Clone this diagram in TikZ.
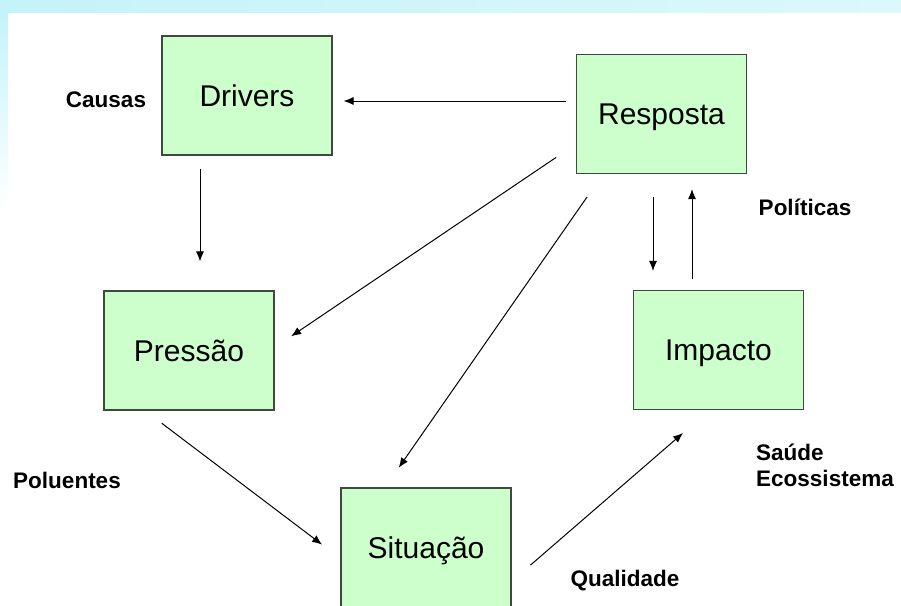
\documentclass[tikz,border=0pt]{standalone}
\usepackage{fontspec}
\setmainfont{Liberation Sans}
\usepackage{tikz}
\usetikzlibrary{arrows.meta, calc, positioning}
\definecolor{boxgreen}{HTML}{CCFFCC}
\definecolor{boxline}{HTML}{3E4A3E}
\definecolor{skyband}{HTML}{C4F3FA}

\begin{document}
\begin{tikzpicture}[
  x=1pt, y=-1pt,
  box/.style={rectangle, draw=boxline, line width=1.1pt, fill=boxgreen, minimum width=170pt, minimum height=119pt, inner sep=0pt, text depth=0pt, font=\fontsize{30}{34}\selectfont},
  lbl/.style={font=\fontsize{22.5}{26}\selectfont\bfseries, inner sep=0pt},
  arr/.style={draw=black, line width=1pt, -{Latex[length=10pt,width=8pt]}}
]
\useasboundingbox (0,0) rectangle (901,605);
\fill[white] (0,0) rectangle (901,605);
\shade[left color=skyband, right color=skyband!60!white] (0,0) rectangle (901,12);
\shade[top color=skyband, bottom color=white] (0,12) rectangle (8,210);

\node[box] (drivers)  at (247,95.5)  {Drivers};
\node[box] (resposta) at (661.5,114) {Resposta};
\node[box] (pressao)  at (189,350.5) {Pressão};
\node[box] (impacto)  at (718.5,350) {Impacto};
\node[box] (situacao) at (426,547.5) {Situação};

\node[lbl] (causas)    at (106,100) {Causas};
\node[lbl] (politicas) at (805,207) {Políticas};
\node[lbl] (poluentes) at (67,480)  {Poluentes};
\node[lbl, align=left, anchor=west] (saude) at (756,465) {Saúde\\Ecossistema};
\node[lbl] (qualidade) at (625,581) {Qualidade};

\draw[arr, shorten <=10pt, shorten >=11pt] ([yshift=13pt]resposta.west) -- ([yshift=13pt]resposta.west -| drivers.east);
\draw[arr, shorten <=13pt, shorten >=29pt] ([xshift=-47pt]drivers.south) -- ([xshift=-47pt]drivers.south |- pressao.north);
\draw[arr, shorten <=24pt, shorten >=20pt] ([yshift=-30pt]resposta.west) -- ([yshift=3pt]pressao.east);
\draw[arr, shorten <=28pt, shorten >=24pt] ([xshift=-58.5pt]resposta.south) -- ([xshift=-41pt]situacao.north);
\draw[arr, shorten <=23pt, shorten >=19pt] ([xshift=-8.5pt]resposta.south) -- ([xshift=-8.5pt]resposta.south |- impacto.north);
\draw[arr, shorten <=11pt, shorten >=15pt] ([xshift=-26.5pt]impacto.north) -- ([xshift=-26.5pt]impacto.north |- resposta.south);
\draw[arr, shorten <=21pt, shorten >=23pt] ([xshift=-44pt]pressao.south) -- ([yshift=-11pt]situacao.west);
\draw[arr, shorten <=25pt, shorten >=35pt] ([yshift=-34pt]situacao.east) -- ([xshift=-9pt]impacto.south);
\end{tikzpicture}
\end{document}
